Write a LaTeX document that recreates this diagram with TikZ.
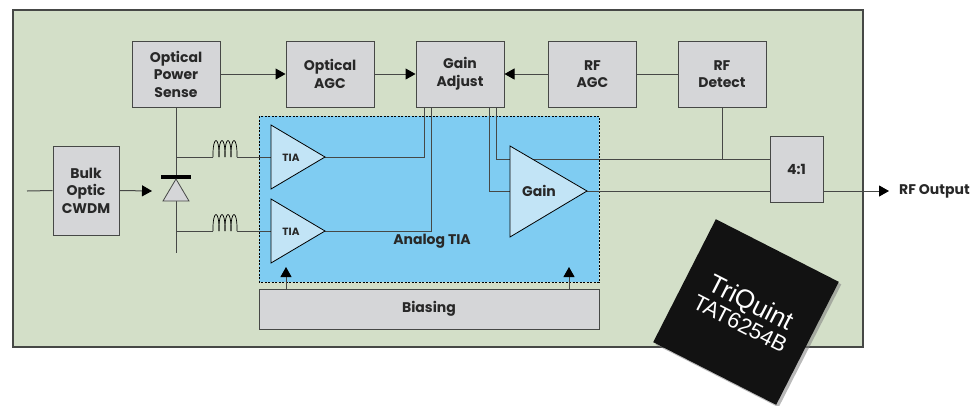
\documentclass[tikz,border=0pt]{standalone}
\usepackage{fontspec}
\setmainfont{Poppins}
\newfontfamily\chipfont{Liberation Sans}
\usetikzlibrary{arrows.meta,shadows}
\definecolor{framegreen}{RGB}{211,223,200}
\definecolor{boxgray}{RGB}{213,214,216}
\definecolor{linegray}{RGB}{70,72,70}
\definecolor{tiablue}{RGB}{127,204,242}
\definecolor{ampblue}{RGB}{194,228,246}
\definecolor{textgray}{RGB}{40,40,40}
\definecolor{chipblack}{RGB}{18,18,18}

\begin{document}
\begin{tikzpicture}[x=1pt,y=-1pt]
\tikzstyle{block} = [draw=linegray,fill=boxgray,line width=1pt,align=center,inner sep=0pt,text=textgray,font=\fontsize{14}{17.5}\selectfont\bfseries]
\tikzstyle{topblock} = [block,minimum width=88pt,minimum height=66pt]
\tikzstyle{wire} = [draw=linegray,line width=1pt]
\tikzstyle{sig} = [wire,-{Triangle[length=10pt,width=11pt,color=black]}]
\tikzstyle{amp} = [draw=black,fill=ampblue,line width=0.8pt,line join=miter]
\tikzstyle{lbl} = [text=textgray,inner sep=0pt,font=\fontsize{14}{17}\selectfont\bfseries]

\useasboundingbox (0,0) rectangle (979,405);
\draw[fill=framegreen,draw=linegray,line width=1.2pt] (13,10) rectangle (863,347);
\draw[fill=tiablue,draw=black,line width=0.8pt,dash pattern=on 2pt off 1.5pt] (259,116) rectangle (599,282);

\node[topblock] (ops) at (176,74) {Optical\\Power\\Sense};
\node[topblock] (oagc) at (330,74) {Optical\\AGC};
\node[topblock] (gadj) at (460,74) {Gain\\Adjust};
\node[topblock] (rfagc) at (592.5,74) {RF\\AGC};
\node[topblock] (rfdet) at (722,74) {RF\\Detect};
\node[block,minimum width=66pt,minimum height=89pt] (cwdm) at (86,190.5) {Bulk\\Optic\\CWDM};
\node[block,minimum width=53pt,minimum height=66pt] (mux) at (796.5,169) {4:1};
\node[block,minimum width=340pt,minimum height=40pt] (bias) at (429,309) {Biasing};

\coordinate (src) at (27,191);
\coordinate (pd) at (152,191);
\coordinate (bar) at (176,177);
\coordinate (pdlow) at (176,201);
\coordinate (pdend) at (176,253);
\coordinate (tiaAin) at (271,157);
\coordinate (tiaBin) at (271,231);
\coordinate (tiaAout) at (325,157);
\coordinate (tiaBout) at (325,231);
\coordinate (gainin) at (510,191);
\coordinate (gainout) at (587,191);
\coordinate (biasA) at (286,267);
\coordinate (biasB) at (569,267);
\coordinate (rfout) at (889,191);

\draw[wire] (src) -- (cwdm.west);
\draw[sig] (cwdm.east) -- (pd);
\draw[wire] (ops.south) -- (bar);
\draw[wire] (pdlow) -- (pdend);
\foreach \y/\t in {157/tiaAin,231/tiaBin} {
  \draw[wire] (176,\y) -- (213,\y);
  \foreach \k in {0,...,3}
    \draw[draw=black,line width=0.7pt] (213+6*\k,\y) .. controls +(-0.5,-22) and +(0.5,-22) .. (219+6*\k,\y);
  \draw[wire] (237,\y) -- (\t);
}
\draw[line width=4pt,draw=black] (161,177) -- (191,177);
\draw[fill=boxgray,draw=linegray,line width=0.8pt] (176,179) -- (189,201) -- (163,201) -- cycle;

\draw[sig] (ops.east) -- (oagc.west);
\draw[sig] (oagc.east) -- (gadj.west);
\draw[sig] (rfagc.west) -- (gadj.east);
\draw[wire] (rfagc.east) -- (rfdet.west);
\draw[wire] (tiaAout) -| ([xshift=-36pt]gadj.south);
\draw[wire] (tiaBout) -| ([xshift=-29pt]gadj.south);
\draw[wire] ([xshift=29pt]gadj.south) |- (gainin);
\draw[wire] ([xshift=36pt]gadj.south) |- (mux.west |- 0,159);
\draw[wire] (rfdet.south) -- (722,159);
\draw[wire] (gainout) -- (mux.west |- gainout);
\draw[sig] (mux.east |- rfout) -- (rfout);
\draw[sig] (bias.north -| biasA) -- (biasA);
\draw[sig] (bias.north -| biasB) -- (biasB);

\draw[amp] (271,125) -- (tiaAout) -- (271,189) -- cycle;
\draw[amp] (271,199) -- (tiaBout) -- (271,263) -- cycle;
\draw[amp] (510,146) -- (gainout) -- (510,237) -- cycle;
\node[lbl,font=\fontsize{10.5}{12}\selectfont\bfseries] (tiaA) at (291,158) {TIA};
\node[lbl,font=\fontsize{10.5}{12}\selectfont\bfseries] (tiaB) at (291,232) {TIA};
\node[lbl] (gain) at (539,191) {Gain};
\node[lbl] (analog) at (432,241) {Analog TIA};
\node[lbl,anchor=west] (rfoutlbl) at (899,191) {RF Output};

\node[fill=chipblack,minimum size=138pt,rotate=-27,inner sep=0pt,align=center,text=white,
  drop shadow={shadow xshift=2.5pt,shadow yshift=-2.5pt,opacity=.55}] (chip) at (746,312)
  {\chipfont\fontsize{26}{26}\selectfont TriQuint\\[1pt]\chipfont\fontsize{22}{22}\selectfont TAT6254B};
\end{tikzpicture}
\end{document}
